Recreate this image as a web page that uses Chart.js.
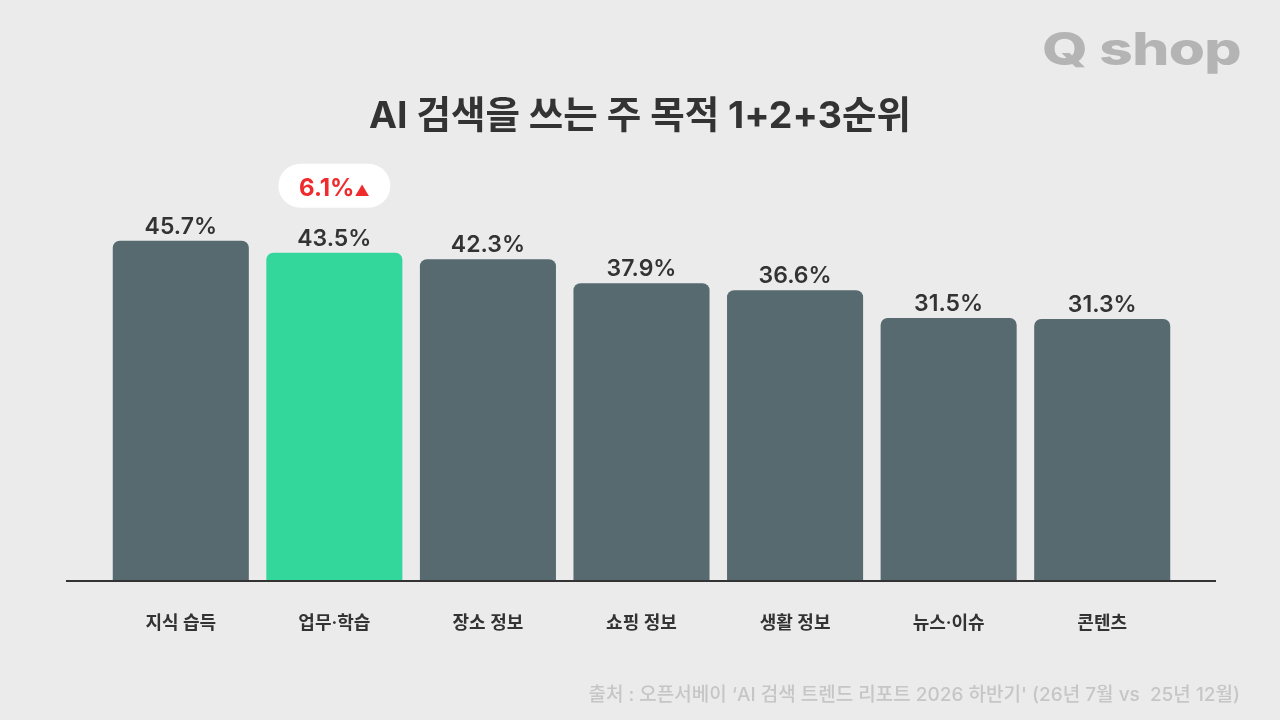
<!DOCTYPE html>
<html lang="ko">
<head>
<meta charset="utf-8">
<title>AI 검색을 쓰는 주 목적</title>
<script src="https://cdn.jsdelivr.net/npm/chart.js@4.4.1/dist/chart.umd.min.js"></script>
<style>
  html, body { margin: 0; padding: 0; background: #ebebeb; }
  #wrap { position: relative; width: 1280px; height: 720px; overflow: hidden; background: #ebebeb;
          font-family: "Inter", "Noto Sans CJK KR", sans-serif; }
  #chart { position: absolute; left: 0; top: 0; }
  #title { position: absolute; left: 0; width: 1280px; top: 84px; text-align: center;
           font-size: 37.5px; font-weight: 700; color: #333333; }
  #logo { position: absolute; right: 39px; top: 21px; font-family: "Inter", sans-serif;
          font-size: 45px; font-weight: 800; color: #b4b4b4; letter-spacing: -0.5px;
          transform: scaleX(1.3); transform-origin: right center; }
  #source { position: absolute; right: 40px; top: 679px; font-size: 19px; font-weight: 500;
            color: #c6c6c6; white-space: pre; }
</style>
</head>
<body>
<div id="wrap">
  <canvas id="chart" width="1280" height="720"></canvas>
  <div id="title">AI 검색을 쓰는 주 목적 1+2+3순위</div>
  <div id="logo">Q shop</div>
  <div id="source">출처 : 오픈서베이 ‘AI 검색 트렌드 리포트 2026 하반기' (26년 7월 vs  25년 12월)</div>
</div>
<script>
const categories = ["지식 습득", "업무·학습", "장소 정보", "쇼핑 정보", "생활 정보", "뉴스·이슈", "콘텐츠"];
const values = [45.7, 43.5, 42.3, 37.9, 36.6, 31.5, 31.3];
const highlightIndex = 1;
const changeLabel = "6.1%";

const Y_MIN = -16.7;
const Y_MAX = 62.4;
const FONT = '"Inter", "Noto Sans CJK KR", sans-serif';
const barColor = "#566a70";
const highlightColor = "#34d79b";

function fmtPct(n) {
  return `${n.toFixed(1)}%`;
}

function roundRect(ctx, x, y, w, h, r) {
  ctx.beginPath();
  ctx.moveTo(x + r, y);
  ctx.arcTo(x + w, y, x + w, y + h, r);
  ctx.arcTo(x + w, y + h, x, y + h, r);
  ctx.arcTo(x, y + h, x, y, r);
  ctx.arcTo(x, y, x + w, y, r);
  ctx.closePath();
}

const labelsPlugin = {
  id: "labels",
  afterDatasetsDraw(chart) {
    const ctx = chart.ctx;
    const area = chart.chartArea;
    const meta = chart.getDatasetMeta(0);
    const xScale = chart.scales.x;

    ctx.save();

    // baseline
    ctx.strokeStyle = "#333333";
    ctx.lineWidth = 2;
    ctx.beginPath();
    ctx.moveTo(66, area.bottom + 1);
    ctx.lineTo(1216, area.bottom + 1);
    ctx.stroke();

    // value labels
    ctx.fillStyle = "#333333";
    ctx.textAlign = "center";
    ctx.textBaseline = "alphabetic";
    ctx.font = `600 23px ${FONT}`;
    meta.data.forEach((bar, i) => {
      ctx.fillText(fmtPct(values[i]), bar.x, bar.y - 7);
    });

    // category labels
    ctx.font = `600 18px ${FONT}`;
    ctx.textBaseline = "middle";
    categories.forEach((c, i) => {
      ctx.fillText(c, xScale.getPixelForValue(i), area.bottom + 44);
    });

    // change badge
    const hb = meta.data[highlightIndex];
    const bw = 112, bh = 44;
    const by = hb.y - 89;
    ctx.fillStyle = "#ffffff";
    roundRect(ctx, hb.x - bw / 2, by, bw, bh, 22);
    ctx.fill();

    ctx.font = `700 24px ${FONT}`;
    const tw = ctx.measureText(changeLabel).width;
    ctx.font = `400 15px ${FONT}`;
    const aw = ctx.measureText("▲").width;
    const sx = hb.x - (tw + aw) / 2;
    ctx.fillStyle = "#ef2b2d";
    ctx.textAlign = "left";
    ctx.textBaseline = "alphabetic";
    ctx.font = `700 24px ${FONT}`;
    ctx.fillText(changeLabel, sx, by + 32);
    ctx.font = `400 15px ${FONT}`;
    ctx.fillText("▲", sx + tw, by + 32);

    ctx.restore();
  }
};

new Chart(document.getElementById("chart"), {
  type: "bar",
  data: {
    labels: categories,
    datasets: [
      {
        data: values,
        base: Y_MIN,
        backgroundColor: values.map((_, i) => (i === highlightIndex ? highlightColor : barColor)),
        borderRadius: 7,
        borderSkipped: "start",
        barPercentage: 0.886,
        categoryPercentage: 1
      }
    ]
  },
  options: {
    responsive: false,
    animation: false,
    layout: { padding: { left: 104, right: 101, top: 150, bottom: 140 } },
    plugins: { legend: { display: false }, tooltip: { enabled: false } },
    scales: {
      x: { display: false },
      y: { display: false, min: Y_MIN, max: Y_MAX }
    }
  },
  plugins: [labelsPlugin]
});
</script>
</body>
</html>
